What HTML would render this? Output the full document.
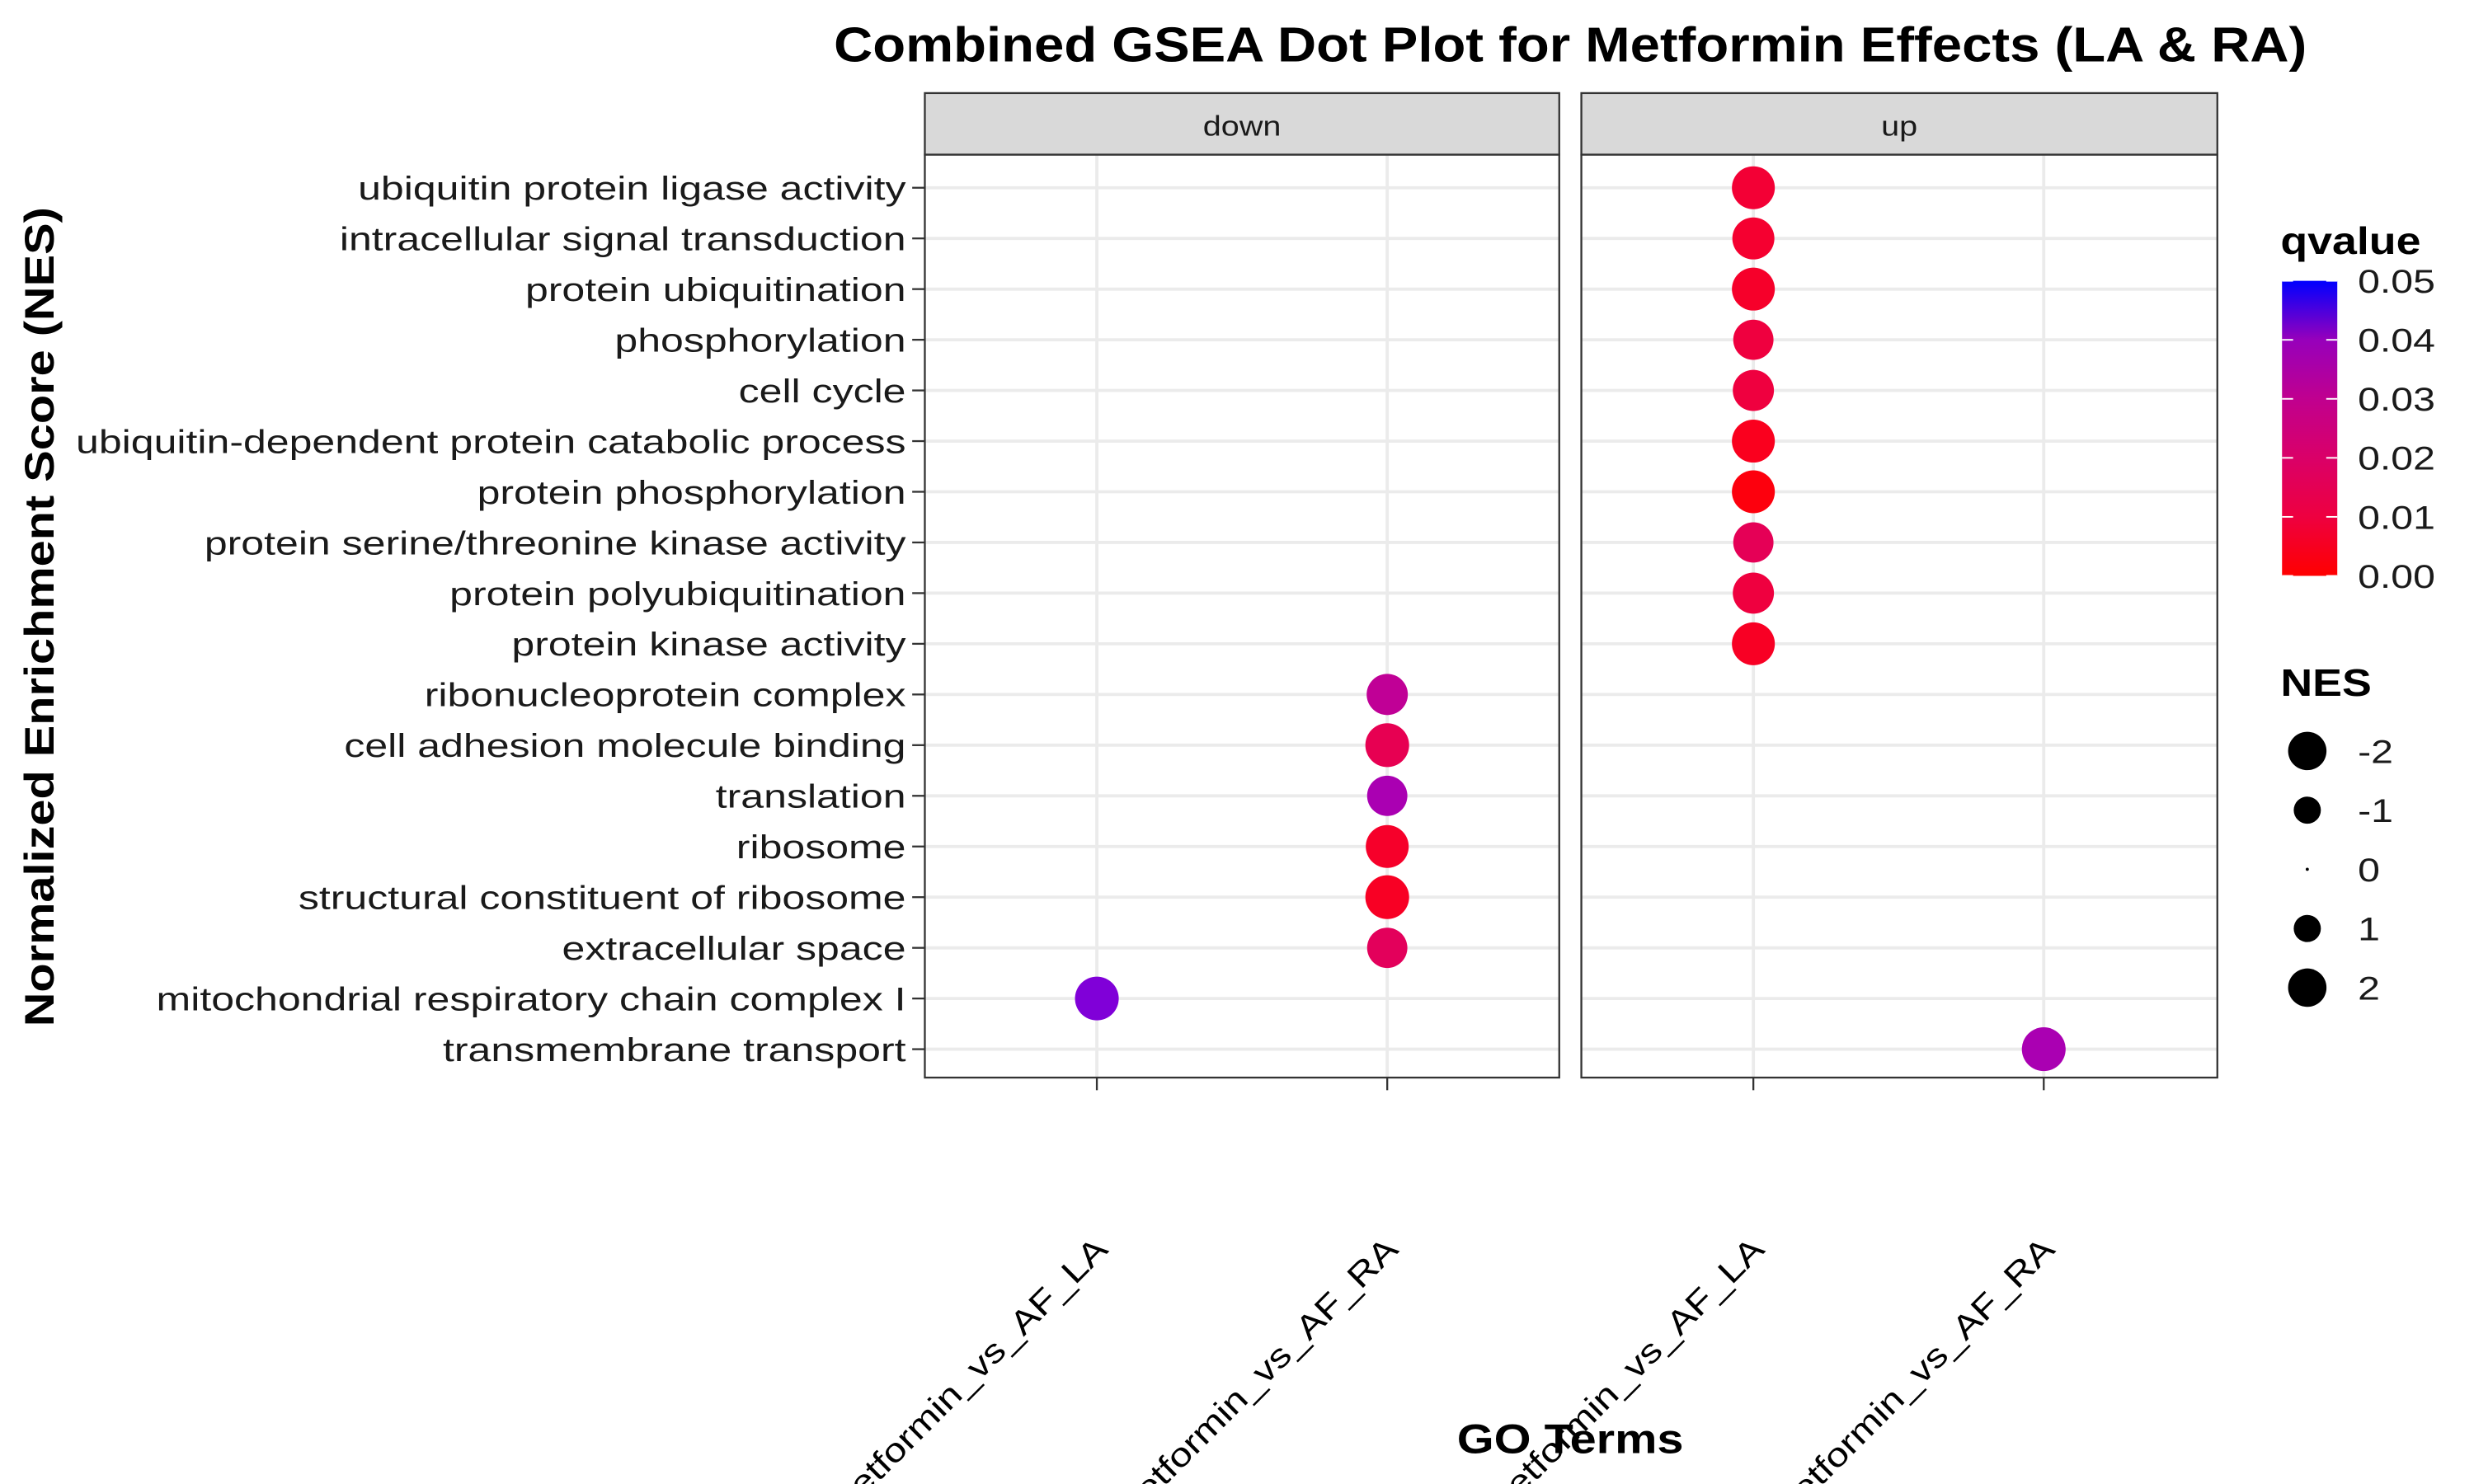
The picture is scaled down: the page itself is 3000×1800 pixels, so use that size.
<!DOCTYPE html>
<html><head><meta charset="utf-8"><style>
html,body{margin:0;padding:0;background:#fff;}
svg{display:block;font-family:"Liberation Sans",Arial,sans-serif;}
</style></head><body>
<svg id="chart" width="3000" height="1800" viewBox="0 0 1567.6 940.6" xmlns="http://www.w3.org/2000/svg">
<defs>
<linearGradient id="qgrad" x1="0" y1="1" x2="0" y2="0">
<stop offset="0" stop-color="#FF0000"/><stop offset="0.2" stop-color="#EE0040"/><stop offset="0.4" stop-color="#DA0068"/><stop offset="0.6" stop-color="#C0008F"/><stop offset="0.8" stop-color="#9700BB"/><stop offset="1" stop-color="#0000FF"/>
</linearGradient>
</defs>
<rect width="1567.6" height="940.6" fill="#fff"/>
<text transform="translate(995,39) scale(1.1,1)" text-anchor="middle" font-size="31" font-weight="bold">Combined GSEA Dot Plot for Metformin Effects (LA &amp; RA)</text>
<g id="panels"></g>
<text transform="translate(34,391) rotate(-90) scale(1.16,1)" text-anchor="middle" font-size="26" font-weight="bold">Normalized Enrichment Score (NES)</text>
<text transform="translate(995,921) scale(1.16,1)" text-anchor="middle" font-size="26" font-weight="bold">GO Terms</text>
<g>
<text transform="translate(1445,161) scale(1.17,1)" font-size="24" font-weight="bold">qvalue</text>
<rect x="1446" y="178" width="35" height="187" fill="url(#qgrad)"/>
<g id="qticks"></g>
</g>
<g id="nesleg">
<text transform="translate(1445,441) scale(1.17,1)" font-size="24" font-weight="bold">NES</text>
</g>
</svg>
<script>
const terms = ["ubiquitin protein ligase activity","intracellular signal transduction","protein ubiquitination","phosphorylation","cell cycle","ubiquitin-dependent protein catabolic process","protein phosphorylation","protein serine/threonine kinase activity","protein polyubiquitination","protein kinase activity","ribonucleoprotein complex","cell adhesion molecule binding","translation","ribosome","structural constituent of ribosome","extracellular space","mitochondrial respiratory chain complex I","transmembrane transport"];
const comparisons = ["Metformin_vs_AF_LA","Metformin_vs_AF_RA"];
const directions = ["down","up"];
const pointTerm = [0,1,2,3,4,5,6,7,8,9,10,11,12,13,14,15,16,17];
const pointDir  = ["up","up","up","up","up","up","up","up","up","up","down","down","down","down","down","down","down","up"];
const pointComp = [0,0,0,0,0,0,0,0,0,0,1,1,1,1,1,1,0,1];
const pointQ    = [0.007,0.006,0.005,0.009,0.009,0.003,0.001,0.014,0.009,0.004,0.028,0.013,0.034,0.005,0.004,0.015,0.042,0.034];
const pointNES  = [2.5,2.4,2.5,2.2,2.3,2.5,2.5,2.2,2.3,2.5,-2.3,-2.6,-2.2,-2.5,-2.6,-2.2,-2.6,2.6];
const qTicks = [0,0.01,0.02,0.03,0.04,0.05];
const nesTicks = [-2,-1,0,1,2];

const NS="http://www.w3.org/2000/svg";
function mk(tag,attrs,parent){const e=document.createElementNS(NS,tag);for(const k in attrs)e.setAttribute(k,attrs[k]);parent.appendChild(e);return e;}
const panelX={down:[586,988],up:[1002,1405]};
const colOff=[109,293];
const yTop=98,yBot=683;
function yScale(i){return 119+i*(665-119)/(terms.length-1);}
function xScale(dir,c){return panelX[dir][0]+colOff[c];}
function rScale(n){return 8.6*Math.sqrt(Math.abs(n));}
function toLab(r,g,b){const f=c=>{c/=255;return c>0.04045?Math.pow((c+0.055)/1.055,2.4):c/12.92};r=f(r);g=f(g);b=f(b);
let X=(r*0.4124+g*0.3576+b*0.1805)/0.95047,Y=r*0.2126+g*0.7152+b*0.0722,Z=(r*0.0193+g*0.1192+b*0.9505)/1.08883;
const h=t=>t>0.008856?Math.cbrt(t):7.787*t+16/116;X=h(X);Y=h(Y);Z=h(Z);return[116*Y-16,500*(X-Y),200*(Y-Z)];}
function fromLab(L,a,bb){let Y=(L+16)/116,X=a/500+Y,Z=Y-bb/200;const h=t=>t*t*t>0.008856?t*t*t:(t-16/116)/7.787;
X=h(X)*0.95047;Y=h(Y);Z=h(Z)*1.08883;let r=X*3.2406+Y*-1.5372+Z*-0.4986,g=X*-0.9689+Y*1.8758+Z*0.0415,b=X*0.0557+Y*-0.2040+Z*1.0570;
const f=c=>{c=c>0.0031308?1.055*Math.pow(c,1/2.4)-0.055:12.92*c;return Math.max(0,Math.min(255,Math.round(c*255)))};return`rgb(${f(r)},${f(g)},${f(b)})`;}
const LR=toLab(255,0,0),LB=toLab(0,0,255);
function color(q){const t=Math.max(0,Math.min(1,q/0.05));return fromLab(LR[0]+(LB[0]-LR[0])*t,LR[1]+(LB[1]-LR[1])*t,LR[2]+(LB[2]-LR[2])*t);}

const P=document.getElementById('panels');
directions.forEach(dir=>{
  const [x0,x1]=panelX[dir];
  const g=mk('g',{},P);
  
  
  mk('rect',{x:x0,y:yTop,width:x1-x0,height:yBot-yTop,fill:'#fff'},g);
  terms.forEach((t,i)=>{const l=mk('line',{x1:x0,x2:x1,y1:yScale(i),y2:yScale(i),stroke:'#EBEBEB','stroke-width':2},g);
    });
  comparisons.forEach((c,ci)=>{const x=xScale(dir,ci);mk('line',{x1:x,x2:x,y1:yTop,y2:yBot,stroke:'#EBEBEB','stroke-width':2},g);
    const tk=mk('line',{x1:x,x2:x,y1:yBot,y2:yBot+8,stroke:'#333','stroke-width':1.2},g);
    
    const lb=mk('text',{transform:`translate(${x+8},${yBot+110}) rotate(-45) scale(1.2,1)`,'text-anchor':'end','font-size':21},g);
    lb.textContent=c;
    });
  mk('rect',{x:x0,y:yTop,width:x1-x0,height:yBot-yTop,fill:'none',stroke:'#333','stroke-width':1.2},g);
  const s=mk('rect',{x:x0,y:59,width:x1-x0,height:yTop-59,fill:'#D9D9D9',stroke:'#333','stroke-width':1.2},g);
  
  const st=mk('text',{transform:`translate(${(x0+x1)/2},86) scale(1.15,1)`,'text-anchor':'middle','font-size':18,fill:'#1A1A1A'},g);
  st.textContent=dir;
  
});
terms.forEach((t,i)=>{
  const y=yScale(i);
  const tx=mk('text',{transform:`translate(574,${y+7.5}) scale(1.245,1)`,'text-anchor':'end','font-size':21,fill:'#1A1A1A'},P);
  tx.textContent=t;
  
  
  const tk=mk('line',{x1:578,x2:586,y1:y,y2:y,stroke:'#333','stroke-width':1.2},P);
  
  
});
pointTerm.forEach((ti,k)=>{
  const c=mk('circle',{cx:xScale(pointDir[k],pointComp[k]),cy:yScale(ti),r:rScale(pointNES[k]),fill:color(pointQ[k])},P);
  
  
});
const QT=document.getElementById('qticks');
qTicks.forEach(q=>{
  const y=365-q/0.05*187;
  mk('line',{x1:1446,x2:1453,y1:y,y2:y,stroke:'#fff','stroke-width':1},QT);
  mk('line',{x1:1474,x2:1481,y1:y,y2:y,stroke:'#fff','stroke-width':1},QT);
  const t=mk('text',{transform:`translate(1494,${y+7.5}) scale(1.2,1)`,'font-size':21,fill:'#1A1A1A'},QT);
  t.textContent=q.toFixed(2);
  
  
});
const NL=document.getElementById('nesleg');
nesTicks.forEach((n,i)=>{
  const y=476+i*37.5;
  const c=mk('circle',{cx:1462,cy:y,r:Math.max(1,rScale(n)),fill:'#000'},NL);
  
  
  const t=mk('text',{transform:`translate(1494,${y+7.5}) scale(1.2,1)`,'font-size':21,fill:'#1A1A1A'},NL);
  t.textContent=String(n);
  
  
});
</script>
</body></html>
